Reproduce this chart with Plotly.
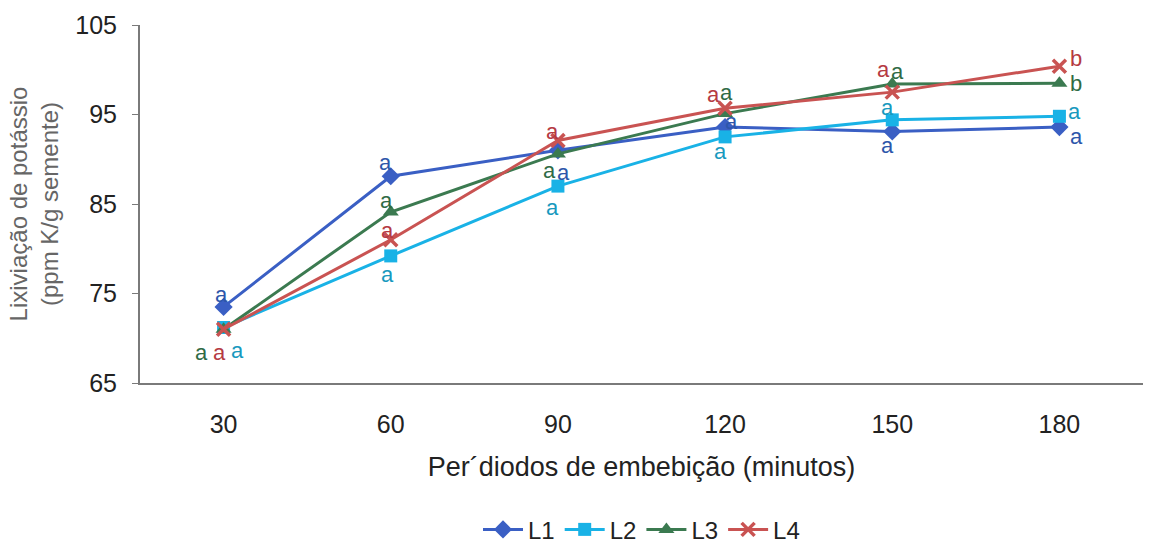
import plotly.graph_objects as go

# Embedding periods (minutes) and potassium leaching per seed lot
periods = ["30", "60", "90", "120", "150", "180"]
L1 = [73.5, 88.1, 91.0, 93.6, 93.1, 93.6]
L2 = [71.2, 79.2, 87.0, 92.5, 94.4, 94.8]
L3 = [71.0, 84.1, 90.6, 95.1, 98.4, 98.5]
L4 = [71.0, 81.0, 92.1, 95.7, 97.5, 100.4]

series = {"L1": L1, "L2": L2, "L3": L3, "L4": L4}
line_colors = {"L1": "#3A5FC4", "L2": "#19B2E6", "L3": "#3B7A50", "L4": "#C95352"}
text_colors = {"L1": "#2D56AA", "L2": "#1899BE", "L3": "#2F6B45", "L4": "#B53A42"}
symbols = {"L1": "diamond", "L2": "square", "L3": "triangle-up", "L4": "x-thin"}
sizes = {"L1": 14, "L2": 13, "L3": 14, "L4": 13}

# Significance letters: (period, series, letter, x offset px, y offset px)
letters = [
    ("30", "L1", "a", -2, 12), ("30", "L3", "a", -22, -23), ("30", "L4", "a", -4, -23), ("30", "L2", "a", 14, -23),
    ("60", "L1", "a", -5, 14), ("60", "L3", "a", -4, 12), ("60", "L4", "a", -3, 9), ("60", "L2", "a", -3, -19),
    ("90", "L4", "a", -5, 9), ("90", "L3", "a", -8, -17), ("90", "L1", "a", 6, -22), ("90", "L2", "a", -5, -21),
    ("120", "L4", "a", -12, 14), ("120", "L3", "a", 1, 21), ("120", "L1", "a", 6, 6), ("120", "L2", "a", -5, -15),
    ("150", "L4", "a", -9, 23), ("150", "L3", "a", 5, 13), ("150", "L2", "a", -5, 12), ("150", "L1", "a", -5, -14),
    ("180", "L4", "b", 17, 8), ("180", "L3", "b", 17, 0), ("180", "L2", "a", 15, 5), ("180", "L1", "a", 17, -9),
]

FONT = "Arial, Liberation Sans, sans-serif"

fig = go.Figure()
for name, vals in series.items():
    if name == "L4":
        mk = dict(symbol=symbols[name], size=sizes[name],
                  line=dict(width=3.5, color=line_colors[name]))
    else:
        mk = dict(symbol=symbols[name], size=sizes[name], color=line_colors[name],
                  line=dict(width=0))
    fig.add_trace(go.Scatter(
        x=periods, y=vals, name=name, mode="lines+markers",
        line=dict(color=line_colors[name], width=3),
        marker=mk,
    ))

for period, name, letter, dx, dy in letters:
    idx = periods.index(period)
    fig.add_annotation(
        x=idx, y=series[name][idx], xref="x", yref="y",
        text=letter, showarrow=False,
        xshift=dx, yshift=dy,
        font=dict(family=FONT, size=22, color=text_colors[name]),
    )

fig.update_layout(
    width=1150, height=547,
    margin=dict(l=140, r=7, t=25, b=164, autoexpand=False),
    paper_bgcolor="white", plot_bgcolor="white",
    font=dict(family=FONT, color="#222222"),
    showlegend=True,
    legend=dict(orientation="h", x=0.5, xanchor="center", y=-0.41, yanchor="middle",
                font=dict(family=FONT, size=24, color="#222222"),
                itemwidth=40, tracegroupgap=0),
    xaxis=dict(
        type="category", range=[-0.5, 5.5],
        showline=True, linecolor="#7a7a7a", linewidth=2,
        ticks="", showgrid=False, zeroline=False,
        ticklabelstandoff=18,
        tickfont=dict(family=FONT, size=25, color="#222222"),
        title=dict(text="Per´diodos de embebição (minutos)",
                   font=dict(family=FONT, size=27, color="#222222"), standoff=20),
    ),
    yaxis=dict(
        range=[65, 105], tickvals=[65, 75, 85, 95, 105],
        showline=True, linecolor="#7a7a7a", linewidth=2,
        ticks="outside", ticklen=6, tickcolor="#7a7a7a", tickwidth=1,
        ticklabelstandoff=10,
        showgrid=False, zeroline=False,
        tickfont=dict(family=FONT, size=25, color="#222222"),
        title=dict(text="Lixiviação de potássio<br>(ppm K/g semente)",
                   font=dict(family=FONT, size=24, color="#666666"), standoff=10),
    ),
)

fig.write_html("out.html")
